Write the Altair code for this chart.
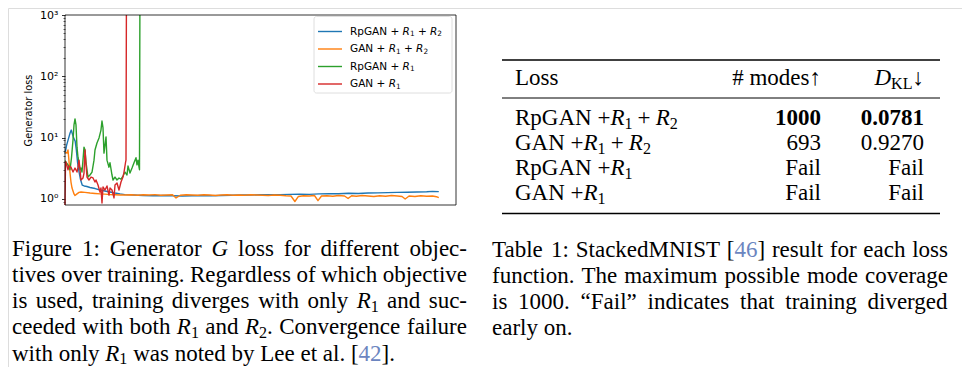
import re
import altair as alt
import pandas as pd

# ---------------- data ----------------
series_names = ["RpGAN + $R_1$ + $R_2$", "GAN + $R_1$ + $R_2$", "RpGAN + $R_1$", "GAN + $R_1$"]
series_colors = ["#1f77b4", "#ff7f0e", "#2ca02c", "#d62728"]

# (training progress, generator loss)
rpgan_r1_r2 = [(0, 5.5), (0.4, 7.5), (0.8, 9.2), (1.3, 11.9), (1.6, 13.3), (1.9, 11.5), (2.2, 9.9),
               (2.6, 8.8), (2.9, 6.3), (3.2, 4.0), (3.6, 2.75), (4.0, 2.04), (4.4, 1.69), (4.9, 1.63),
               (5.6, 1.60), (6.4, 1.54), (7.7, 1.48), (9.0, 1.40), (10.2, 1.35), (11.5, 1.30), (12.8, 1.25),
               (14.1, 1.21), (15.3, 1.18), (17.5, 1.16), (20, 1.14), (22.5, 1.13), (25, 1.14), (27.5, 1.13),
               (30, 1.12), (32.5, 1.13), (35, 1.14), (37.5, 1.13), (40, 1.14), (42.5, 1.15), (45, 1.16),
               (47.5, 1.16), (50, 1.17), (52.5, 1.17), (55, 1.18), (57.5, 1.19), (60, 1.20), (62.5, 1.19),
               (65, 1.21), (67.5, 1.22), (70, 1.22), (72.5, 1.24), (75, 1.23), (77.5, 1.25), (80, 1.26),
               (82.5, 1.27), (85, 1.28), (87.5, 1.29), (90, 1.30), (92.5, 1.31), (94, 1.33), (95.6, 1.32)]

gan_r1_r2 = [(0, 5.8), (0.5, 5.6), (0.77, 6.3), (1.0, 4.3), (1.28, 2.65), (1.53, 1.89), (1.8, 1.51),
             (2.3, 1.21), (2.56, 1.14), (3.07, 1.21), (3.58, 1.28), (4.1, 1.30), (5.1, 1.28), (6.4, 1.25),
             (7.7, 1.23), (9.0, 1.21), (10.2, 1.20), (11.5, 1.18), (12.8, 1.17), (14.1, 1.16), (15.5, 1.16),
             (17, 1.17), (18.5, 1.15), (20, 1.17), (21.5, 1.16), (23, 1.18), (24.5, 1.15), (26, 1.16),
             (27.5, 1.17), (28.4, 1.04), (29.5, 1.15), (31, 1.17), (32.5, 1.16), (34, 1.15), (35.5, 1.17),
             (37, 1.16), (38.5, 1.14), (40, 1.16), (41.5, 1.17), (43, 1.15), (44.5, 1.16), (46, 1.15),
             (47.5, 1.17), (49, 1.16), (50.5, 1.15), (52, 1.14), (53.5, 1.16), (55, 1.15), (56.5, 1.13),
             (57.8, 1.12), (58.8, 0.91), (59.7, 1.10), (61, 1.13), (62.5, 1.12), (63.8, 1.14), (64.7, 0.94),
             (65.6, 1.12), (67, 1.13), (68.5, 1.11), (70, 1.14), (71.5, 1.12), (72.4, 1.02), (73.3, 1.13),
             (74.5, 1.11), (76, 1.14), (77.5, 1.12), (79, 1.10), (80.5, 1.13), (82, 1.11), (83.5, 1.14),
             (85, 1.12), (86.2, 1.10), (87, 1.00), (88, 1.12), (89.5, 1.10), (91, 1.13), (92.5, 1.11),
             (94, 1.12), (95, 1.09), (95.6, 1.05)]

rpgan_r1 = [(0, 4.2), (0.26, 4.0), (0.77, 3.6), (1.28, 3.0), (1.66, 4.7), (2.05, 9.2), (2.3, 16.1),
            (2.56, 20.2), (2.81, 16.1), (3.07, 7.0), (3.32, 4.8), (3.58, 3.9), (3.84, 3.0), (4.09, 3.2),
            (4.35, 2.75), (4.6, 4.3), (4.86, 7.0), (5.12, 6.3), (5.37, 4.0), (5.63, 3.0), (5.88, 2.28),
            (6.39, 2.46), (6.91, 2.75), (7.42, 4.3), (7.67, 6.3), (8.18, 8.2), (8.7, 9.9), (9.2, 13.3),
            (9.46, 18.7), (9.72, 14.4), (9.97, 5.6), (10.23, 7.6), (10.49, 10.3), (10.74, 4.3), (11.25, 3.3),
            (11.51, 3.9), (12.02, 2.46), (12.28, 2.04), (12.79, 2.28), (13.3, 2.04), (13.81, 2.2), (14.32, 2.1),
            (14.83, 2.37), (15.35, 2.75), (15.86, 2.46), (16.11, 3.45), (16.62, 2.65), (17.14, 3.2),
            (17.65, 3.9), (18.16, 4.7), (18.41, 3.6), (18.67, 4.3), (18.93, 3.3), (19.05, 3.0), (19.15, 30000)]

gan_r1 = [(0, 0.5), (0.13, 4.0), (0.26, 4.0), (0.77, 3.0), (1.02, 3.45), (1.53, 3.3), (2.05, 2.75),
          (2.56, 3.2), (3.07, 2.75), (3.32, 3.3), (3.58, 4.3), (3.84, 3.0), (4.09, 2.04), (4.6, 2.2),
          (4.86, 2.65), (5.12, 6.3), (5.37, 3.6), (5.63, 2.28), (6.14, 2.04), (6.65, 2.28), (7.16, 2.2),
          (7.67, 1.89), (7.93, 2.04), (8.44, 1.69), (8.95, 1.30), (9.2, 1.51), (9.46, 0.86), (9.72, 1.57),
          (10.23, 1.40), (10.74, 1.63), (11.25, 1.16), (11.51, 1.51), (12.02, 1.40), (12.53, 1.04),
          (12.79, 1.69), (13.3, 1.82), (13.81, 1.40), (14.32, 1.89), (14.83, 2.28), (15.09, 2.75),
          (15.47, 3.9), (15.6, 4.3), (15.7, 30000)]

y_tick_values = [1, 10, 100, 1000]
y_tick_labels = ["10⁰", "10¹", "10²", "10³"]
y_title = "Generator loss"

table_header = ["Loss", "# modes↑", "$D_{KL}$↓"]
table_rows = [
    ["RpGAN $+R_1 + R_2$", "1000", "0.0781"],
    ["GAN $+R_1 + R_2$", "693", "0.9270"],
    ["RpGAN $+R_1$", "Fail", "Fail"],
    ["GAN $+R_1$", "Fail", "Fail"],
]
bold_row = 0

fig_caption = [
    "Figure 1: Generator $G$ loss for different objec-",
    "tives over training. Regardless of which objective",
    "is used, training diverges with only $R_1$ and suc-",
    "ceeded with both $R_1$ and $R_2$. Convergence failure",
    "with only $R_1$ was noted by Lee et al. [42].",
]
tab_caption = [
    "Table 1: StackedMNIST [46] result for each loss",
    "function. The maximum possible mode coverage",
    "is 1000. “Fail” indicates that training diverged",
    "early on.",
]

# ---------------- layout constants ----------------
W, H = 954, 359
X0, X1 = 57, 448
Y_TOP, Y_BOT = 7, 197
Y_MIN, Y_MAX = 0.798, 1000
SANS = "DejaVu Sans"
SERIF = "Liberation Serif"
SIZE = 23.0
SUB = 0.7
CITE = "#6b85c0"
CHART_FS = 10.5

# Times / Liberation Serif advance widths (em)
RM = dict(zip("abcdefghijklmnopqrstuvwxyz",
              [.444, .5, .444, .5, .444, .333, .5, .5, .278, .278, .5, .278, .778, .5, .5, .5, .5, .333,
               .389, .278, .5, .5, .722, .5, .5, .444]))
RM.update(zip("ABCDEFGHIJKLMNOPQRSTUVWXYZ",
              [.722, .667, .667, .722, .611, .556, .722, .722, .333, .389, .722, .611, .889, .722, .722,
               .556, .722, .667, .556, .611, .722, .722, .944, .722, .722, .611]))
RM.update({d: .5 for d in "0123456789"})
RM.update({" ": .25, ".": .25, ",": .25, ":": .278, "-": .333, "[": .333, "]": .333,
           "“": .444, "”": .444, "+": .564, "#": .5, "↑": .5, "↓": .5})
IT = {"G": .722, "R": .611, "D": .722}
SERIF_M = {"rm": RM, "it": IT, "space": .25, "mspace": .222}
# DejaVu Sans advance widths (em)
DV = {"R": .695, "p": .635, "G": .775, "A": .684, "N": .748, " ": .318, "+": .838, "1": .636, "2": .636}
SANS_M = {"rm": DV, "it": DV, "space": .318, "mspace": .2}


def parse(s, base):
    out = []
    for i, part in enumerate(s.split("$")):
        if i % 2 == 0:
            pos = 0
            for m in re.finditer(r"\[(\d+)\]", part):
                out.append((part[pos:m.start() + 1], base))
                out.append((m.group(1), "cite"))
                pos = m.end() - 1
            out.append((part[pos:], base))
        else:
            j = 0
            while j < len(part):
                c = part[j]
                if c == "_":
                    if part[j + 1] == "{":
                        k = part.index("}", j)
                        out.append((part[j + 2:k], "sub"))
                        j = k + 1
                    else:
                        out.append((part[j + 1], "sub"))
                        j += 2
                    continue
                if c == " ":
                    out.append((" ", "mspace"))
                elif c.isalpha():
                    out.append((c, "it"))
                else:
                    out.append((c, "rm"))
                j += 1
    return [(t, st) for t, st in out if t]


def place(segs, x0, size, metrics=SERIF_M):
    runs = []
    x = x0
    for text, style in segs:
        if style == "mspace":
            x += metrics["mspace"] * size
            continue
        fs = size * SUB if style == "sub" else size
        table = metrics["it"] if style == "it" else metrics["rm"]
        start, buf = x, ""
        for c in text:
            if c == " ":
                if buf:
                    runs.append((start, buf, style))
                buf = ""
                x += metrics["space"] * fs
            else:
                if not buf:
                    start = x
                buf += c
                x += table.get(c, .5) * fs
        if buf:
            runs.append((start, buf, style))
    return runs, x - x0


def caption(lines, x0, y0, width, lead):
    rows = []
    for i, line in enumerate(lines):
        words = line.split(" ")
        placed = [place(parse(w, "rm"), 0, SIZE) for w in words]
        total = sum(w for _, w in placed)
        last = i == len(lines) - 1
        gap = 0.25 * SIZE if last else (width - total) / (len(words) - 1)
        x = x0
        for runs, w in placed:
            for rx, t, st in runs:
                rows.append(dict(x=x + rx, y=y0 + i * lead, text=t, style=st))
            x += w + gap
    return rows


text_rows = []
text_rows += caption(fig_caption, 4, 247.5, 455, 26.25)
text_rows += caption(tab_caption, 484, 248.5, 456, 26.25)

TBL_BASE = [77, 117, 142, 167, 192]
COL_LEFT = 507
COL_RIGHT = {1: 813, 2: 916}
for r, row in enumerate([table_header] + table_rows):
    for c, cell in enumerate(row):
        base = "bf" if (r - 1 == bold_row and c > 0) else "rm"
        runs, w = place(parse(cell, base), 0, SIZE)
        start = COL_LEFT if c == 0 else COL_RIGHT[c] - w
        for rx, t, st in runs:
            text_rows.append(dict(x=start + rx, y=TBL_BASE[r], text=t, style=st))
text_df = pd.DataFrame(text_rows)

rules_df = pd.DataFrame({"x1": [494, 494, 494], "x2": [932, 932, 932],
                         "y": [52, 90, 205.5], "w": [1.7, 1.0, 1.7]})

# legend label pieces
LEG_X = 342
leg_rows = []
for i, name in enumerate(series_names):
    runs, _ = place(parse(name, "rm"), LEG_X, CHART_FS, SANS_M)
    for rx, t, st in runs:
        leg_rows.append(dict(idx=i, x=rx, text=t, style=st))
leg_text_df = pd.DataFrame(leg_rows)

# ---------------- scales ----------------
xs = alt.Scale(domain=[0, 100], range=[X0, X1], nice=False, zero=False)
ys = alt.Scale(type="log", domain=[Y_MIN, Y_MAX], range=[Y_BOT, Y_TOP], nice=False, clamp=True)
px_x = alt.Scale(domain=[0, W], range=[0, W], nice=False, zero=False)
px_y = alt.Scale(domain=[0, H], range=[0, H], nice=False, zero=False)

label_expr = " : ".join(f"datum.value == {v} ? '{l}'" for v, l in zip(y_tick_values, y_tick_labels)) + " : ''"
major_axis = alt.Axis(values=y_tick_values, labelExpr=label_expr, tickSize=3.5, tickWidth=0.8,
                      tickColor="black", labelFont=SANS, labelFontSize=11, labelColor="black",
                      labelPadding=3.5, domain=False, grid=False, title=y_title, titleFont=SANS,
                      titleFontSize=9.8, titleFontWeight="normal", titleColor="black", titleX=-37,
                      titleY=(Y_TOP + Y_BOT) / 2, titleAngle=270, titleAlign="center",
                      titleBaseline="middle", orient="left", offset=-X0, labelFlush=False,
                      labelOverlap=False)
minor_values = [0.9] + [k * 10 ** e for e in range(0, 3) for k in range(2, 10)]
minor_axis = alt.Axis(values=minor_values, labels=False, tickSize=2, tickWidth=0.6, tickColor="black",
                      domain=False, grid=False, title=None, orient="left", offset=-X0)

layers = []
for i, (data, color) in enumerate(zip([rpgan_r1_r2, gan_r1_r2, rpgan_r1, gan_r1], series_colors)):
    df = pd.DataFrame(data, columns=["step", "loss"])
    layers.append(alt.Chart(df).mark_line(color=color, strokeWidth=1.4, strokeJoin="round").encode(
        x=alt.X("step:Q", scale=xs, axis=None),
        y=alt.Y("loss:Q", scale=ys, axis=major_axis if i == 0 else None),
    ))

frame_df = pd.DataFrame({"x0": [0], "x1": [100], "y0": [Y_MIN], "y1": [Y_MAX]})
layers.append(alt.Chart(frame_df).mark_rect(fillOpacity=0, stroke="black", strokeWidth=0.8).encode(
    x=alt.X("x0:Q", scale=xs, axis=None), x2="x1:Q",
    y=alt.Y("y0:Q", scale=ys, axis=minor_axis), y2="y1:Q"))

# legend
legend_df = pd.DataFrame({"color": series_colors, "idx": list(range(4))})
leg_y = alt.Scale(domain=[0, 3], range=[23.5, 76], nice=False, zero=False)
layers.append(alt.Chart(legend_df.head(1)).mark_rect(
    cornerRadius=2.5, fill="white", fillOpacity=0.8, stroke="#d5d5d5", strokeWidth=0.8).encode(
    x=alt.value(306), x2=alt.value(444), y=alt.value(8.5), y2=alt.value(85)))
layers.append(alt.Chart(legend_df).mark_rule(strokeWidth=1.4).encode(
    x=alt.value(310), x2=alt.value(334),
    y=alt.Y("idx:Q", scale=leg_y, axis=None),
    color=alt.Color("color:N", scale=None)))
leg_styles = {"rm": dict(), "it": dict(fontStyle="italic"), "sub": dict(fontSize=CHART_FS * SUB, dy=2.5)}
for st, props in leg_styles.items():
    kw = dict(align="left", baseline="middle", font=SANS, fontSize=CHART_FS, color="black")
    kw.update(props)
    layers.append(alt.Chart(leg_text_df[leg_text_df["style"] == st]).mark_text(**kw).encode(
        x=alt.X("x:Q", scale=px_x, axis=None),
        y=alt.Y("idx:Q", scale=leg_y, axis=None), text="text:N"))

# table rules
layers.append(alt.Chart(rules_df).mark_rule(color="black").encode(
    x=alt.X("x1:Q", scale=px_x, axis=None), x2="x2:Q",
    y=alt.Y("y:Q", scale=px_y, axis=None),
    strokeWidth=alt.StrokeWidth("w:Q", scale=None)))

# text (table + captions)
style_props = {
    "rm": dict(color="black"),
    "it": dict(color="black", fontStyle="italic"),
    "sub": dict(color="black", fontSize=SIZE * SUB, dy=3.5),
    "cite": dict(color=CITE),
    "bf": dict(color="black", fontWeight="bold"),
}
for st, props in style_props.items():
    sub_df = text_df[text_df["style"] == st]
    if sub_df.empty:
        continue
    kw = dict(font=SERIF, fontSize=SIZE, align="left", baseline="alphabetic")
    kw.update(props)
    layers.append(alt.Chart(sub_df).mark_text(**kw).encode(
        x=alt.X("x:Q", scale=px_x, axis=None),
        y=alt.Y("y:Q", scale=px_y, axis=None),
        text="text:N"))

chart = alt.layer(*layers).resolve_scale(x="independent", y="independent").properties(
    width=W, height=H, padding=0, autosize=alt.AutoSizeParams(type="none"),
).configure_view(stroke=None).configure(background="white")

chart.save("out.html", embed_options={"renderer": "svg", "actions": False})
